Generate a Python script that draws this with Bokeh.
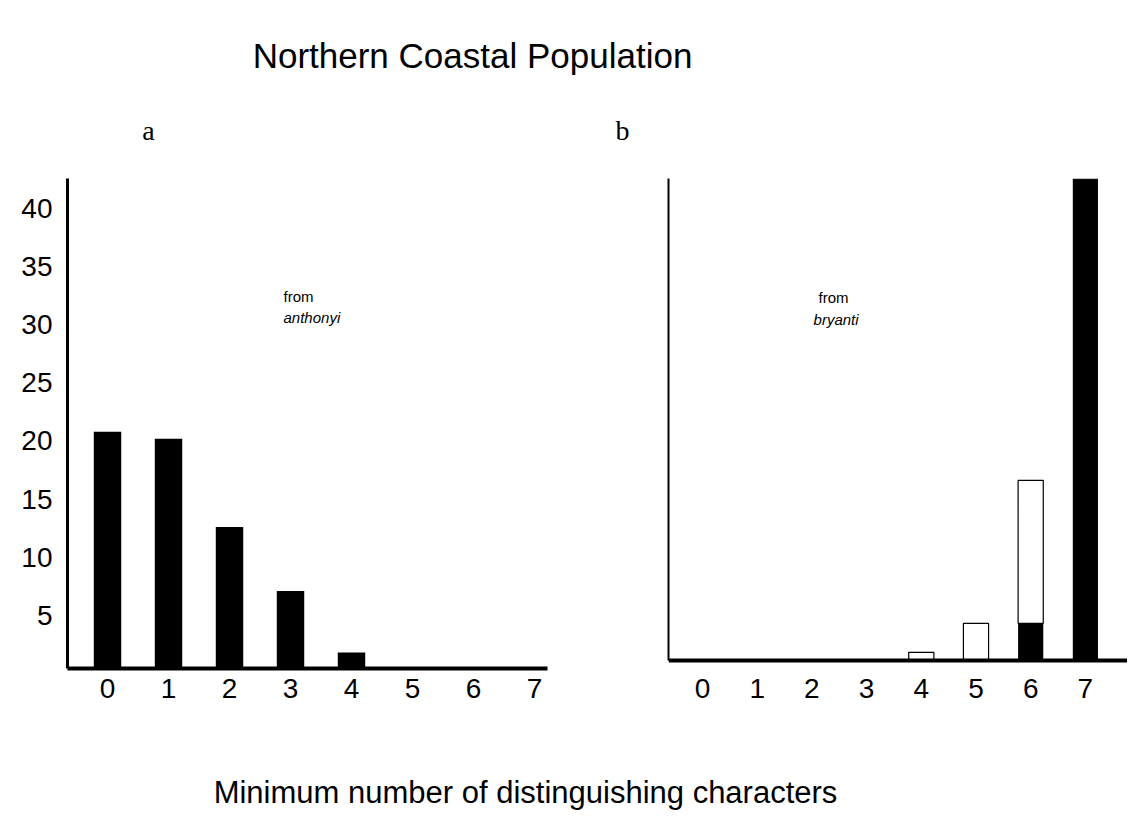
from bokeh.plotting import figure
from bokeh.layouts import column, row
from bokeh.models import Label, FixedTicker, Range1d, Span
from bokeh.embed import file_html
from bokeh.resources import INLINE

# ---- data ----
categories = [0, 1, 2, 3, 4, 5, 6, 7]
anthonyi_filled = [20.8, 20.2, 12.6, 7.1, 1.8, 0, 0, 0]
bryanti_filled = [0, 0, 0, 0, 0, 0, 3.2, 41.4]
bryanti_open = [0, 0, 0, 0, 0.7, 3.2, 12.3, 0]
y_ticks = [5, 10, 15, 20, 25, 30, 35, 40]
title_text = "Northern Coastal Population"
xlabel_text = "Minimum number of distinguishing characters"

SANS = "Liberation Sans"
SERIF = "Liberation Serif"


def blank(p):
    p.xgrid.visible = False
    p.ygrid.visible = False
    p.outline_line_color = None
    p.background_fill_color = "white"
    p.border_fill_color = "white"


def style_axes(p):
    p.xaxis.ticker = FixedTicker(ticks=categories)
    p.xaxis.axis_line_width = 4
    p.xaxis.axis_line_color = "black"
    p.xaxis.major_tick_line_color = None
    p.xaxis.minor_tick_line_color = None
    p.xaxis.major_tick_out = 0
    p.xaxis.major_label_standoff = 10
    p.xaxis.major_label_text_font = SANS
    p.xaxis.major_label_text_font_size = "28px"
    p.xaxis.major_label_text_color = "black"
    p.yaxis.major_tick_line_color = None
    p.yaxis.minor_tick_line_color = None
    p.yaxis.major_tick_out = 0
    p.yaxis.axis_line_color = "black"


# ---- top text strip ----
top = figure(width=1127, height=165, x_range=Range1d(0, 1127), y_range=Range1d(0, 165),
             toolbar_location=None, output_backend="svg",
             min_border=0, min_border_left=0, min_border_right=0, min_border_top=0, min_border_bottom=0)
blank(top)
top.axis.visible = False
top.add_layout(Label(x=472, y=110, text=title_text, text_font=SANS, text_font_size="35px",
                     text_align="center", text_baseline="middle", text_color="black"))
top.add_layout(Label(x=148, y=35, text="a", text_font=SERIF, text_font_size="28px",
                     text_align="center", text_baseline="middle", text_color="black"))
top.add_layout(Label(x=622, y=35, text="b", text_font=SERIF, text_font_size="28px",
                     text_align="center", text_baseline="middle", text_color="black"))

# ---- panel a ----
a_start, a_end = 0.43, 42.58
pa = figure(width=600, height=563, x_range=Range1d(-0.656, 7.213), y_range=Range1d(a_start, a_end),
            toolbar_location=None, output_backend="svg",
            min_border_left=67, min_border_right=53, min_border_top=13, min_border_bottom=60)
blank(pa)
style_axes(pa)
pa.yaxis.ticker = FixedTicker(ticks=y_ticks)
pa.yaxis.axis_line_width = 3
pa.yaxis.major_label_standoff = 15
pa.yaxis.major_label_text_font = SANS
pa.yaxis.major_label_text_font_size = "28px"
pa.yaxis.major_label_text_color = "black"
pa.vbar(x=categories, top=anthonyi_filled, bottom=0, width=0.45,
        fill_color="black", line_color=None)
pa.add_layout(Label(x=2.885, y=32.4, text="from", text_font=SANS, text_font_size="15px",
                    text_baseline="middle", text_color="black"))
pa.add_layout(Label(x=2.885, y=30.6, text="anthonyi", text_font=SANS, text_font_size="15px",
                    text_font_style="italic", text_baseline="middle", text_color="black"))

# ---- panel b ----
b_start, b_end = -0.688, 41.46
open_top = [f + o for f, o in zip(bryanti_filled, bryanti_open)]
pb = figure(width=527, height=563, x_range=Range1d(-0.622, 7.77), y_range=Range1d(b_start, b_end),
            toolbar_location=None, output_backend="svg",
            min_border_left=68, min_border_right=0, min_border_top=13, min_border_bottom=60)
blank(pb)
style_axes(pb)
pb.xaxis.axis_line_color = None
pb.yaxis.ticker = FixedTicker(ticks=[])
pb.yaxis.axis_line_width = 2
pb.yaxis.bounds = (0, b_end)
pb.add_layout(Span(location=0, dimension="width", line_color="black", line_width=4))
pb.vbar(x=categories, top=bryanti_filled, bottom=0, width=0.46,
        fill_color="black", line_color=None)
pb.vbar(x=categories, top=open_top, bottom=bryanti_filled, width=0.46,
        fill_color="white", line_color="black", line_width=1.2)
pb.add_layout(Label(x=2.12, y=31.2, text="from", text_font=SANS, text_font_size="15px",
                    text_baseline="middle", text_color="black"))
pb.add_layout(Label(x=2.03, y=29.3, text="bryanti", text_font=SANS, text_font_size="15px",
                    text_font_style="italic", text_baseline="middle", text_color="black"))

# ---- bottom text strip ----
bot = figure(width=1127, height=86, x_range=Range1d(0, 1127), y_range=Range1d(0, 86),
             toolbar_location=None, output_backend="svg",
             min_border=0, min_border_left=0, min_border_right=0, min_border_top=0, min_border_bottom=0)
blank(bot)
bot.axis.visible = False
bot.add_layout(Label(x=525, y=22, text=xlabel_text, text_font=SANS, text_font_size="31px",
                     text_align="center", text_baseline="middle", text_color="black"))

layout = column(top, row(pa, pb, spacing=0), bot, spacing=0)
open("out.html", "w").write(file_html(layout, INLINE))
